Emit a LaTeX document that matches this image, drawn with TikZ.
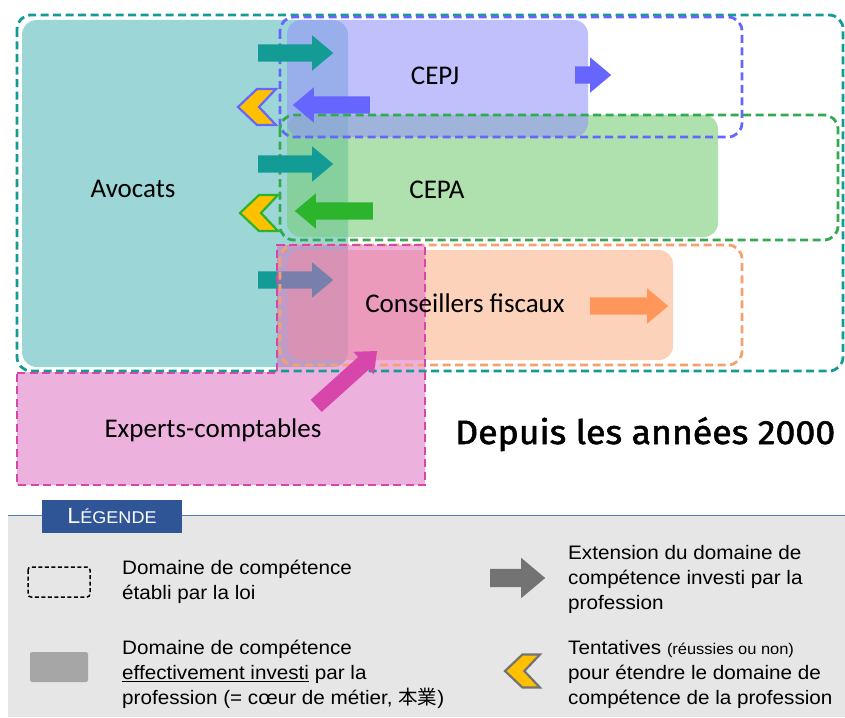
\documentclass[tikz,border=0pt]{standalone}
\usepackage{fontspec}
\setmainfont{Carlito}
\newfontfamily\legendfont{Liberation Sans}[FakeStretch=1.06]
\newfontfamily\titlefont{Fira Sans}[FakeBold=1.6]
\newfontfamily\cjkfont{Noto Sans CJK JP}
\usetikzlibrary{shapes.arrows}

\definecolor{avteal}{RGB}{19,155,150}
\definecolor{avfill}{RGB}{157,214,214}
\definecolor{cepjblue}{RGB}{102,102,255}
\definecolor{cepjfill}{RGB}{150,150,250}
\definecolor{cepagreen}{RGB}{45,180,45}
\definecolor{cepaline}{RGB}{50,170,80}
\definecolor{cepafill}{RGB}{120,205,120}
\definecolor{cforange}{RGB}{255,150,90}
\definecolor{cfline}{RGB}{245,160,110}
\definecolor{cffill}{RGB}{250,180,140}
\definecolor{ecmagenta}{RGB}{215,70,170}
\definecolor{ecfill}{RGB}{220,100,190}
\definecolor{tryyellow}{RGB}{255,192,0}
\definecolor{leggray}{RGB}{230,230,230}
\definecolor{legline}{RGB}{90,120,190}
\definecolor{legblue}{RGB}{47,85,151}
\definecolor{sqgray}{RGB}{166,166,166}
\definecolor{arrgray}{RGB}{115,115,115}

\tikzset{
	lawbox/.style={line width=2.8pt, dash pattern=on 8pt off 4.5pt, rounded corners=14pt},
	bigarrow/.style={single arrow, anchor=tail, inner sep=0pt, inner ysep=8.5pt, single arrow head extend=9pt,
		single arrow tip angle=80, minimum height=#1, draw=none},
	bigarrow/.default=75,
	proname/.style={font=\fontsize{27}{27}\selectfont},
	legtext/.style={anchor=north west, inner sep=0pt, align=left, font=\legendfont\fontsize{19.5}{25}\selectfont},
	pics/chevron/.style={code={
		\filldraw[fill=tryyellow, draw=#1, line width=2.2pt, line join=miter]
		(0,0) -- (19,-18) -- (38,-18) -- (21,0) -- (38,18) -- (19,18) -- cycle;
	}}
}

\begin{document}
\begin{tikzpicture}[x=1pt,y=-1pt]
	\useasboundingbox (0,0) rectangle (845,717);
	
	% Domaines investis
	\fill[avfill, rounded corners=15pt] (22,20) rectangle (348,367);
	\fill[cepafill, opacity=0.6, rounded corners=14pt] (287,115) rectangle (718,237);
	\fill[cepjfill, opacity=0.6, rounded corners=14pt] (287,20) rectangle (588,137);
	\fill[cffill, opacity=0.6, rounded corners=14pt] (287,250) rectangle (673,360);
	\node[bigarrow, fill=avteal] (avcf) at (258,280) {};
	\fill[ecfill, opacity=0.5] (17,372) -- (277,372) -- (277,245) -- (425,245) -- (425,485) -- (17,485) -- cycle;
	
	% Domaines etablis par la loi
	\draw[lawbox, avteal] (17,15) rectangle (843,371);
	\draw[lawbox, cepjblue] (280,17) rectangle (742,137);
	\draw[lawbox, cepaline] (280,115) rectangle (838,240);
	\draw[lawbox, cfline] (280,245) rectangle (742,365);
	\draw[lawbox, ecmagenta, rounded corners=0pt] (17,373) -- (277,373) -- (277,245) -- (425,245) -- (425,485) -- (17,485) -- cycle;
	
	% Extensions
	\node[bigarrow, fill=avteal] (avcepj) at (258,53) {};
	\node[bigarrow, fill=avteal] (avcepa) at (258,164) {};
	\node[bigarrow=77, fill=cepjblue, shape border rotate=180] (cepjav) at (370,105) {};
	\node[bigarrow=78, fill=cepagreen, shape border rotate=180] (cepaav) at (373,211) {};
	\node[bigarrow=36, fill=cepjblue] (cepjout) at (575,75) {};
	\node[bigarrow=78, fill=cforange] (cfout) at (590,306) {};
	\node[bigarrow=82, fill=ecmagenta, rotate=42, inner ysep=8pt, single arrow head extend=7pt] (eccf) at (316,406) {};
	
	% Tentatives
	\pic at (238,107) {chevron=cepjblue};
	\pic at (240,213) {chevron=cepagreen};
	
	% Professions
	\node[proname] (avocats) at (133,189) {Avocats};
	\node[proname] (cepj) at (435,76) {CEPJ};
	\node[proname] (cepa) at (437,190) {CEPA};
	\node[proname] (cf) at (465,303) {Conseillers fiscaux};
	\node[proname] (ec) at (213,430) {Experts-comptables};
	\node[font=\titlefont\fontsize{36}{36}\selectfont, anchor=base west, inner sep=0pt] (title) at (455,444) {\resizebox{380pt}{27pt}{Depuis les années 2000}};
	
	% Legende
	\fill[leggray] (8,515) rectangle (845,717);
	\draw[legline, line width=1pt] (8,515) -- (845,515);
	\node[fill=legblue, minimum width=140, minimum height=33, inner sep=0pt, text=white,
	font=\legendfont] (legtab) at (112,516.5) {{\fontsize{22}{22}\selectfont L}{\fontsize{17}{17}\selectfont ÉGENDE}};
	\draw[black, line width=1.5pt, dash pattern=on 4pt off 2.5pt, rounded corners=3pt] (28,567) rectangle (90,597);
	\fill[sqgray, rounded corners=2pt] (30,652) rectangle (88,682);
	\node[bigarrow=55, fill=arrgray, inner ysep=9pt, single arrow head extend=11pt] (legarrow) at (490,578) {};
	\pic[scale=0.92] at (505,671) {chevron=arrgray};
	\node[legtext] (leglaw) at (122,560) {Domaine de compétence\\établi par la loi};
	\node[legtext] (legcore) at (122,640) {Domaine de compétence\\\underline{effectivement investi} par la\\profession (= cœur de métier, {\cjkfont 本業})};
	\node[legtext] (legext) at (568,545) {Extension du domaine de\\compétence investi par la\\profession};
	\node[legtext] (legtry) at (568,640) {Tentatives {\fontsize{15.5}{15.5}\selectfont (réussies ou non)}\\pour étendre le domaine de\\compétence de la profession};
\end{tikzpicture}
\end{document}
